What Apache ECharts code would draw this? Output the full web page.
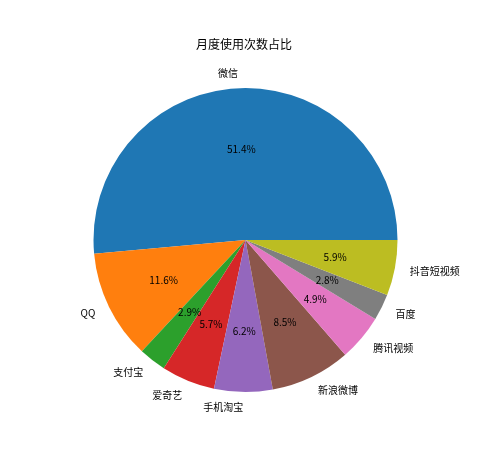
<!DOCTYPE html>
<html>
<head>
<meta charset="utf-8">
<script src="https://cdn.jsdelivr.net/npm/echarts@6/dist/echarts.min.js"></script>
<style>html,body{margin:0;padding:0;background:#fff;}#c{width:488px;height:472px;}</style>
</head>
<body>
<div id="c"></div>
<script>
const categories = ['微信', 'QQ', '支付宝', '爱奇艺', '手机淘宝', '新浪微博', '腾讯视频', '百度', '抖音短视频'];
const values = [51.4, 11.6, 2.9, 5.7, 6.2, 8.5, 4.9, 2.8, 5.9];
const colors = ['#1f77b4', '#ff7f0e', '#2ca02c', '#d62728', '#9467bd', '#8c564b', '#e377c2', '#7f7f7f', '#bcbd22'];
const titleText = '月度使用次数占比';

const FONT = '"Noto Sans CJK SC", sans-serif';
const R = 152;
const C = [245.5, 240];

const data = categories.map((n, i) => ({ name: n, value: values[i], itemStyle: { color: colors[i] } }));
const chart = echarts.init(document.getElementById('c'), null, { renderer: 'canvas' });
chart.setOption({
  animation: false,
  backgroundColor: '#fff',
  title: {
    text: titleText, left: 'center', top: 33,
    textStyle: { fontFamily: FONT, fontSize: 12, fontWeight: 'normal', color: '#000' }
  },
  series: [
    {
      type: 'pie', center: C, radius: [0, R], startAngle: 0, clockwise: false,
      avoidLabelOverlap: false, silent: true,
      itemStyle: { borderWidth: 0 },
      label: {
        show: true, position: 'outside', fontFamily: FONT, fontSize: 10, color: '#000',
        distanceToLabelLine: 0, formatter: '{b}'
      },
      labelLine: { show: false, length: R * 0.1, length2: 0 },
      data: data
    },
    {
      type: 'pie', center: C, radius: [R * 0.2 - 6, R], startAngle: 0, clockwise: false,
      avoidLabelOverlap: false, silent: true,
      itemStyle: { color: 'rgba(0,0,0,0)', borderWidth: 0 },
      label: {
        show: true, position: 'inside', fontFamily: FONT, fontSize: 10, color: '#000',
        formatter: p => p.value.toFixed(1) + '%'
      },
      labelLine: { show: false },
      data: categories.map((n, i) => ({ name: n, value: values[i] }))
    }
  ]
});
</script>
</body>
</html>
